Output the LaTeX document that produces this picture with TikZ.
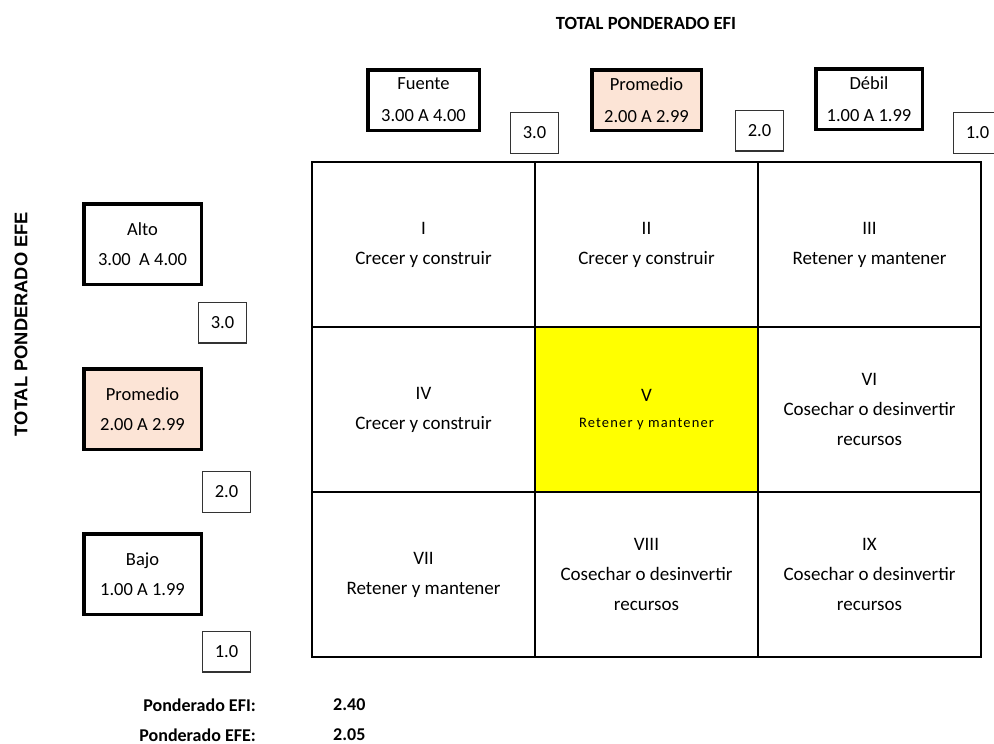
\documentclass[tikz,border=0pt]{standalone}
\usepackage{fontspec}
\setmainfont{Carlito}
\newfontfamily\arialfont{Liberation Sans}
\newfontfamily\spacedfont[LetterSpace=8]{Carlito}
\definecolor{pinkc}{HTML}{FCE4D6}
\definecolor{yellowc}{HTML}{FFFF00}
\begin{document}
\begin{tikzpicture}[x=1pt,y=-1pt,
  bigbox/.style={draw=black, line width=3.5pt, inner sep=0pt, align=center,
    font=\fontsize{18.5}{30}\selectfont},
  topbox/.style={bigbox, minimum height=60.5pt, font=\fontsize{18.5}{32}\selectfont},
  leftbox/.style={bigbox, minimum width=117.5pt, minimum height=80.5pt},
  pink/.style={fill=pinkc},
  smallbox/.style={draw=black!80, line width=1.2pt, inner sep=0pt,
    minimum width=47.8pt, minimum height=40.8pt, font=\fontsize{18.5}{22}\selectfont},
  cell/.style={draw=black, line width=2.5pt, inner sep=0pt, align=center,
    minimum width=223pt, minimum height=165pt, font=\fontsize{19}{30}\selectfont},
  boldlabel/.style={font=\bfseries\fontsize{18}{20}\selectfont, inner sep=0pt}
]
\useasboundingbox (0,0) rectangle (994,744);

% titles
\node[inner sep=0pt, font=\bfseries\fontsize{18.6}{20}\selectfont] (efi) at (646,23) {TOTAL PONDERADO EFI};
\node[rotate=90, inner sep=0pt, font=\arialfont\bfseries\fontsize{18.3}{20}\selectfont] (efe) at (21,324) {TOTAL PONDERADO EFE};

% top boxes
\node[topbox, minimum width=111.5pt] (fuente) at (423.5,100) {Fuente\\3.00 A 4.00};
\node[topbox, pink, minimum width=109.5pt] (promtop) at (646.5,100) {Promedio\\2.00 A 2.99};
\node[topbox, minimum width=106.5pt] (debil) at (869,99) {Débil\\1.00 A 1.99};

\node[smallbox] (t3) at (534.5,133) {3.0};
\node[smallbox] (t2) at (759.5,130.5) {2.0};
\node[smallbox] (t1) at (977.5,133) {1.0};

% left boxes
\node[leftbox] (alto) at (142.5,244) {Alto\\3.00\ \ A 4.00};
\node[leftbox, pink] (promleft) at (142.5,409) {Promedio\\2.00 A 2.99};
\node[leftbox] (bajo) at (142.5,574) {Bajo\\1.00 A 1.99};

\node[smallbox] (l3) at (222.5,322.5) {3.0};
\node[smallbox] (l2) at (226.5,492) {2.0};
\node[smallbox] (l1) at (226.5,651.5) {1.0};

% grid cells
\node[cell, fill=yellowc] (c5) at (646.5,409.5) {V\\[-4pt]{\spacedfont\fontsize{14.5}{20}\selectfont Retener y mantener}};
\node[cell] (c1) at (423.5,244.5) {I\\Crecer y construir};
\node[cell] (c2) at (646.5,244.5) {II\\Crecer y construir};
\node[cell] (c3) at (869.5,244.5) {III\\Retener y mantener};
\node[cell] (c4) at (423.5,409.5) {IV\\Crecer y construir};
\node[cell] (c6) at (869.5,409.5) {VI\\Cosechar o desinvertir\\recursos};
\node[cell] (c7) at (423.5,574.5) {VII\\Retener y mantener};
\node[cell] (c8) at (646.5,574.5) {VIII\\Cosechar o desinvertir\\recursos};
\node[cell] (c9) at (869.5,574.5) {IX\\Cosechar o desinvertir\\recursos};

% bottom results
\node[boldlabel, anchor=east] (pefi) at (256,705) {Ponderado EFI:};
\node[boldlabel, anchor=east] (pefe) at (256,735) {Ponderado EFE:};
\node[boldlabel, anchor=west] (vefi) at (333,705) {2.40};
\node[boldlabel, anchor=west] (vefe) at (333,735) {2.05};
\end{tikzpicture}
\end{document}
